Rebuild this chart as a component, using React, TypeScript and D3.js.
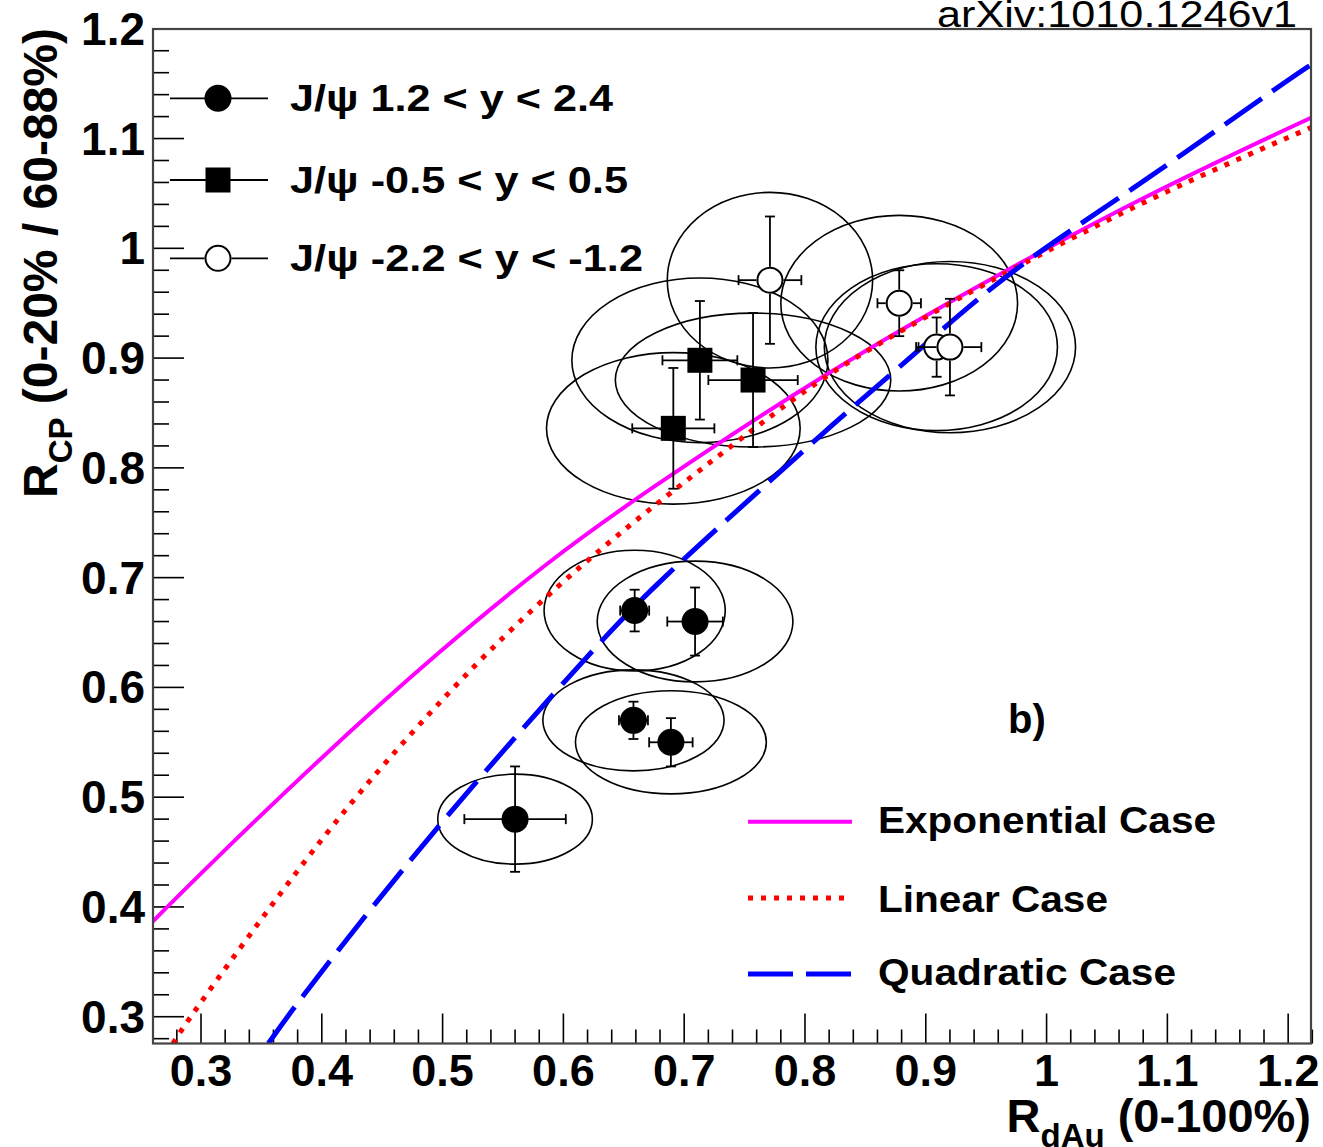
import React from "react";
import * as d3 from "d3";

// ---- data ----
// J/psi 1.2 < y < 2.4 (filled circles)
const fwdPoints = [
  { x: 0.659, y: 0.670, ex: 0.012, ey: 0.019, sx: 0.075, sy: 0.055 },
  { x: 0.709, y: 0.660, ex: 0.023, ey: 0.031, sx: 0.081, sy: 0.055 },
  { x: 0.658, y: 0.570, ex: 0.012, ey: 0.017, sx: 0.075, sy: 0.046 },
  { x: 0.689, y: 0.550, ex: 0.018, ey: 0.022, sx: 0.079, sy: 0.047 },
  { x: 0.560, y: 0.480, ex: 0.042, ey: 0.048, sx: 0.064, sy: 0.041 },
];
// J/psi -0.5 < y < 0.5 (filled squares)
const midPoints = [
  { x: 0.691, y: 0.836, ex: 0.034, ey: 0.055, sx: 0.105, sy: 0.069 },
  { x: 0.713, y: 0.898, ex: 0.031, ey: 0.054, sx: 0.106, sy: 0.075 },
  { x: 0.757, y: 0.880, ex: 0.037, ey: 0.061, sx: 0.114, sy: 0.061 },
];
// J/psi -2.2 < y < -1.2 (open circles)
const bwdPoints = [
  { x: 0.771, y: 0.971, ex: 0.026, ey: 0.058, sx: 0.085, sy: 0.080 },
  { x: 0.878, y: 0.950, ex: 0.018, ey: 0.030, sx: 0.098, sy: 0.080 },
  { x: 0.909, y: 0.910, ex: 0.017, ey: 0.027, sx: 0.100, sy: 0.076 },
  { x: 0.920, y: 0.910, ex: 0.026, ey: 0.044, sx: 0.104, sy: 0.078 },
];

const expCurve: [number, number][] = [
  [0.2603, 0.387], [0.30, 0.431], [0.40, 0.537], [0.498, 0.634], [0.589, 0.716],
  [0.658, 0.771], [0.815, 0.886], [0.969, 0.982], [1.091, 1.053], [1.2189, 1.119],
];
const linCurve: [number, number][] = [
  [0.2767, 0.2756], [0.291, 0.30], [0.357, 0.40], [0.426, 0.50], [0.531, 0.628],
  [0.619, 0.716], [0.688, 0.777], [0.760, 0.8375], [0.815, 0.883], [0.881, 0.926],
  [0.969, 0.980], [1.091, 1.049], [1.2189, 1.110],
];
const quadCurve: [number, number][] = [
  [0.3557, 0.2756], [0.385, 0.321], [0.492, 0.470], [0.614, 0.622], [0.672, 0.690],
  [0.760, 0.777], [0.821, 0.838], [0.887, 0.900], [0.969, 0.980], [1.063, 1.047],
  [1.2095, 1.161], [1.2189, 1.167],
];

const xTickValues = [0.3, 0.4, 0.5, 0.6, 0.7, 0.8, 0.9, 1.0, 1.1, 1.2];
const xTickLabels = ["0.3", "0.4", "0.5", "0.6", "0.7", "0.8", "0.9", "1", "1.1", "1.2"];
const yTickValues = [0.3, 0.4, 0.5, 0.6, 0.7, 0.8, 0.9, 1.0, 1.1, 1.2];
const yTickLabels = ["0.3", "0.4", "0.5", "0.6", "0.7", "0.8", "0.9", "1", "1.1", "1.2"];

const dataLegend = [
  { label: "J/\u03c8 1.2 < y < 2.4", marker: "circle", width: 323 },
  { label: "J/\u03c8 -0.5 < y < 0.5", marker: "square", width: 338 },
  { label: "J/\u03c8 -2.2 < y < -1.2", marker: "open", width: 353 },
];
const curveLegend = [
  { label: "Exponential Case", color: "#ff00ff", dash: "none", width: 338 },
  { label: "Linear Case", color: "#ff0000", dash: "5 8", width: 230 },
  { label: "Quadratic Case", color: "#0000ff", dash: "45 13", width: 298 },
];

const W = 1323;
const H = 1147;
const L = 153, R = 1311, T = 29, B = 1043.5;
const FONT = "'Liberation Sans', Arial, Helvetica, sans-serif";

const x = d3.scaleLinear().domain([0.26026, 1.2189]).range([L, R]);
const y = d3.scaleLinear().domain([0.2756, 1.1998]).range([B, T]);

const line = d3
  .line<[number, number]>()
  .x((d) => x(d[0]))
  .y((d) => y(d[1]))
  .curve(d3.curveBasis);

type Pt = { x: number; y: number; ex: number; ey: number; sx: number; sy: number };

const MR = 13.5;

function ErrorBars({ p, gap }: { p: Pt; gap: number }) {
  const cx = x(p.x), cy = y(p.y);
  const yt = y(p.y + p.ey), yb = y(p.y - p.ey);
  const xl = x(p.x - p.ex), xr = x(p.x + p.ex);
  const segs: JSX.Element[] = [];
  const st = { stroke: "#000", strokeWidth: 1.8 };
  if (cy - gap > yt) segs.push(<line key="vt" x1={cx} x2={cx} y1={yt} y2={cy - gap} {...st} />);
  if (yb > cy + gap) segs.push(<line key="vb" x1={cx} x2={cx} y1={cy + gap} y2={yb} {...st} />);
  if (cx - gap > xl) segs.push(<line key="hl" x1={xl} x2={cx - gap} y1={cy} y2={cy} {...st} />);
  if (xr > cx + gap) segs.push(<line key="hr" x1={cx + gap} x2={xr} y1={cy} y2={cy} {...st} />);
  segs.push(<line key="ct" x1={cx - 5} x2={cx + 5} y1={yt} y2={yt} {...st} />);
  segs.push(<line key="cb" x1={cx - 5} x2={cx + 5} y1={yb} y2={yb} {...st} />);
  segs.push(<line key="cl" x1={xl} x2={xl} y1={cy - 5} y2={cy + 5} {...st} />);
  segs.push(<line key="cr" x1={xr} x2={xr} y1={cy - 5} y2={cy + 5} {...st} />);
  return <g>{segs}</g>;
}

function Ellipse({ p }: { p: Pt }) {
  const cx = x(p.x), cy = y(p.y);
  const rx = x(p.x + p.sx) - cx;
  const ry = cy - y(p.y + p.sy);
  return <ellipse cx={cx} cy={cy} rx={rx} ry={ry} fill="none" stroke="#000" strokeWidth={1.6} />;
}

function Marker({ kind, cx, cy }: { kind: string; cx: number; cy: number }) {
  if (kind === "circle") return <circle cx={cx} cy={cy} r={MR} fill="#000" />;
  if (kind === "square") return <rect x={cx - 12.5} y={cy - 12.5} width={25} height={25} fill="#000" />;
  return <circle cx={cx} cy={cy} r={MR - 1} fill="#fff" stroke="#000" strokeWidth={2} />;
}

export default function App() {
  const ticksX = d3.range(14, 62).map((i) => i / 50); // 0.28 .. 1.22 step 0.02
  const ticksY = d3.range(14, 61).map((i) => i / 50); // 0.28 .. 1.20
  const isMajor = (v: number) => Math.abs(v * 10 - Math.round(v * 10)) < 1e-6;

  const allPts: { p: Pt; kind: string }[] = [
    ...fwdPoints.map((p) => ({ p, kind: "circle" })),
    ...midPoints.map((p) => ({ p, kind: "square" })),
    ...bwdPoints.map((p) => ({ p, kind: "open" })),
  ];

  return (
    <div style={{ position: "absolute", left: 0, top: 0 }}>
      <svg width={W} height={H} style={{ display: "block", background: "#fff" }} fontFamily={FONT}>
        <defs>
          <clipPath id="frameClip">
            <rect x={L} y={T} width={R - L} height={B - T} />
          </clipPath>
        </defs>
        <rect x={0} y={0} width={W} height={H} fill="#fff" />

        {/* arXiv stamp */}
        <text x={937} y={27} fontSize={36} fontFamily="'Liberation Sans', 'Open Sans', sans-serif" textLength={360} lengthAdjust="spacingAndGlyphs" fill="#000">
          arXiv:1010.1246v1
        </text>

        {/* ticks */}
        {ticksX.map((v, i) => {
          const len = isMajor(v) ? 30 : 14;
          return <line key={"xt" + i} x1={x(v)} x2={x(v)} y1={B} y2={B - len} stroke="#000" strokeWidth={1.6} />;
        })}
        {ticksY.map((v, i) => {
          const len = isMajor(v) ? 31 : 16;
          return <line key={"yt" + i} x1={L} x2={L + len} y1={y(v)} y2={y(v)} stroke="#000" strokeWidth={1.6} />;
        })}

        {/* tick labels */}
        {xTickValues.map((v, i) => (
          <text key={"xl" + i} x={x(v)} y={1086} textAnchor="middle" fontSize={45} fontWeight="bold" fill="#000">
            {xTickLabels[i]}
          </text>
        ))}
        {yTickValues.map((v, i) => (
          <text key={"yl" + i} x={145} y={y(v) + 16} textAnchor="end" fontSize={46} fontWeight="bold" fill="#000">
            {yTickLabels[i]}
          </text>
        ))}

        {/* axis titles */}
        <text x={R} y={1132} textAnchor="end" fontSize={47} fontWeight="bold" fill="#000">
          R<tspan fontSize={33} dy={15}>dAu</tspan>
          <tspan dy={-15}> (0-100%)</tspan>
        </text>
        <text transform={`translate(57,28) rotate(-90)`} textAnchor="end" fontSize={48} fontWeight="bold" fill="#000">
          R<tspan fontSize={33} dy={15}>CP</tspan>
          <tspan dy={-15}> (0-20% / 60-88%)</tspan>
        </text>

        {/* systematic ellipses */}
        {allPts.map((d, i) => (
          <Ellipse key={"el" + i} p={d.p} />
        ))}

        {/* model curves */}
        <g clipPath="url(#frameClip)" fill="none">
          <path d={line(expCurve) || ""} stroke="#ff00ff" strokeWidth={4} />
          <path d={line(linCurve) || ""} stroke="#ff0000" strokeWidth={5} strokeDasharray="5 8" />
          <path d={line(quadCurve) || ""} stroke="#0000ff" strokeWidth={5} strokeDasharray="45 13" />
        </g>

        {/* error bars and markers */}
        {allPts.map((d, i) => (
          <g key={"pt" + i}>
            <ErrorBars p={d.p} gap={d.kind === "open" ? MR : 0} />
            <Marker kind={d.kind} cx={x(d.p.x)} cy={y(d.p.y)} />
          </g>
        ))}

        {/* frame */}
        <rect x={L} y={T} width={R - L} height={B - T} fill="none" stroke="#444" strokeWidth={2.2} />

        {/* data legend */}
        {dataLegend.map((e, i) => {
          const cy = [98.3, 180, 258.3][i];
          const gap = e.marker === "open" ? MR : 0;
          return (
            <g key={"dl" + i}>
              <line x1={170} x2={218 - gap} y1={cy} y2={cy} stroke="#000" strokeWidth={1.8} />
              <line x1={218 + gap} x2={268} y1={cy} y2={cy} stroke="#000" strokeWidth={1.8} />
              <Marker kind={e.marker} cx={218} cy={cy} />
              <text x={290} y={cy + 12.5} fontSize={36} fontWeight="bold" textLength={e.width} lengthAdjust="spacingAndGlyphs" fill="#000">
                {e.label}
              </text>
            </g>
          );
        })}

        {/* panel label */}
        <text x={1008} y={733} fontSize={40} fontWeight="bold" fill="#000">b)</text>

        {/* curve legend */}
        {curveLegend.map((e, i) => {
          const ly = [821.7, 898, 974][i];
          const by = [833, 911.7, 985][i];
          return (
            <g key={"cl" + i}>
              <line x1={748} x2={852} y1={ly} y2={ly} stroke={e.color} strokeWidth={i === 0 ? 4 : 5} strokeDasharray={e.dash} />
              <text x={878} y={by} fontSize={37} fontWeight="bold" textLength={e.width} lengthAdjust="spacingAndGlyphs" fill="#000">
                {e.label}
              </text>
            </g>
          );
        })}
      </svg>
    </div>
  );
}
